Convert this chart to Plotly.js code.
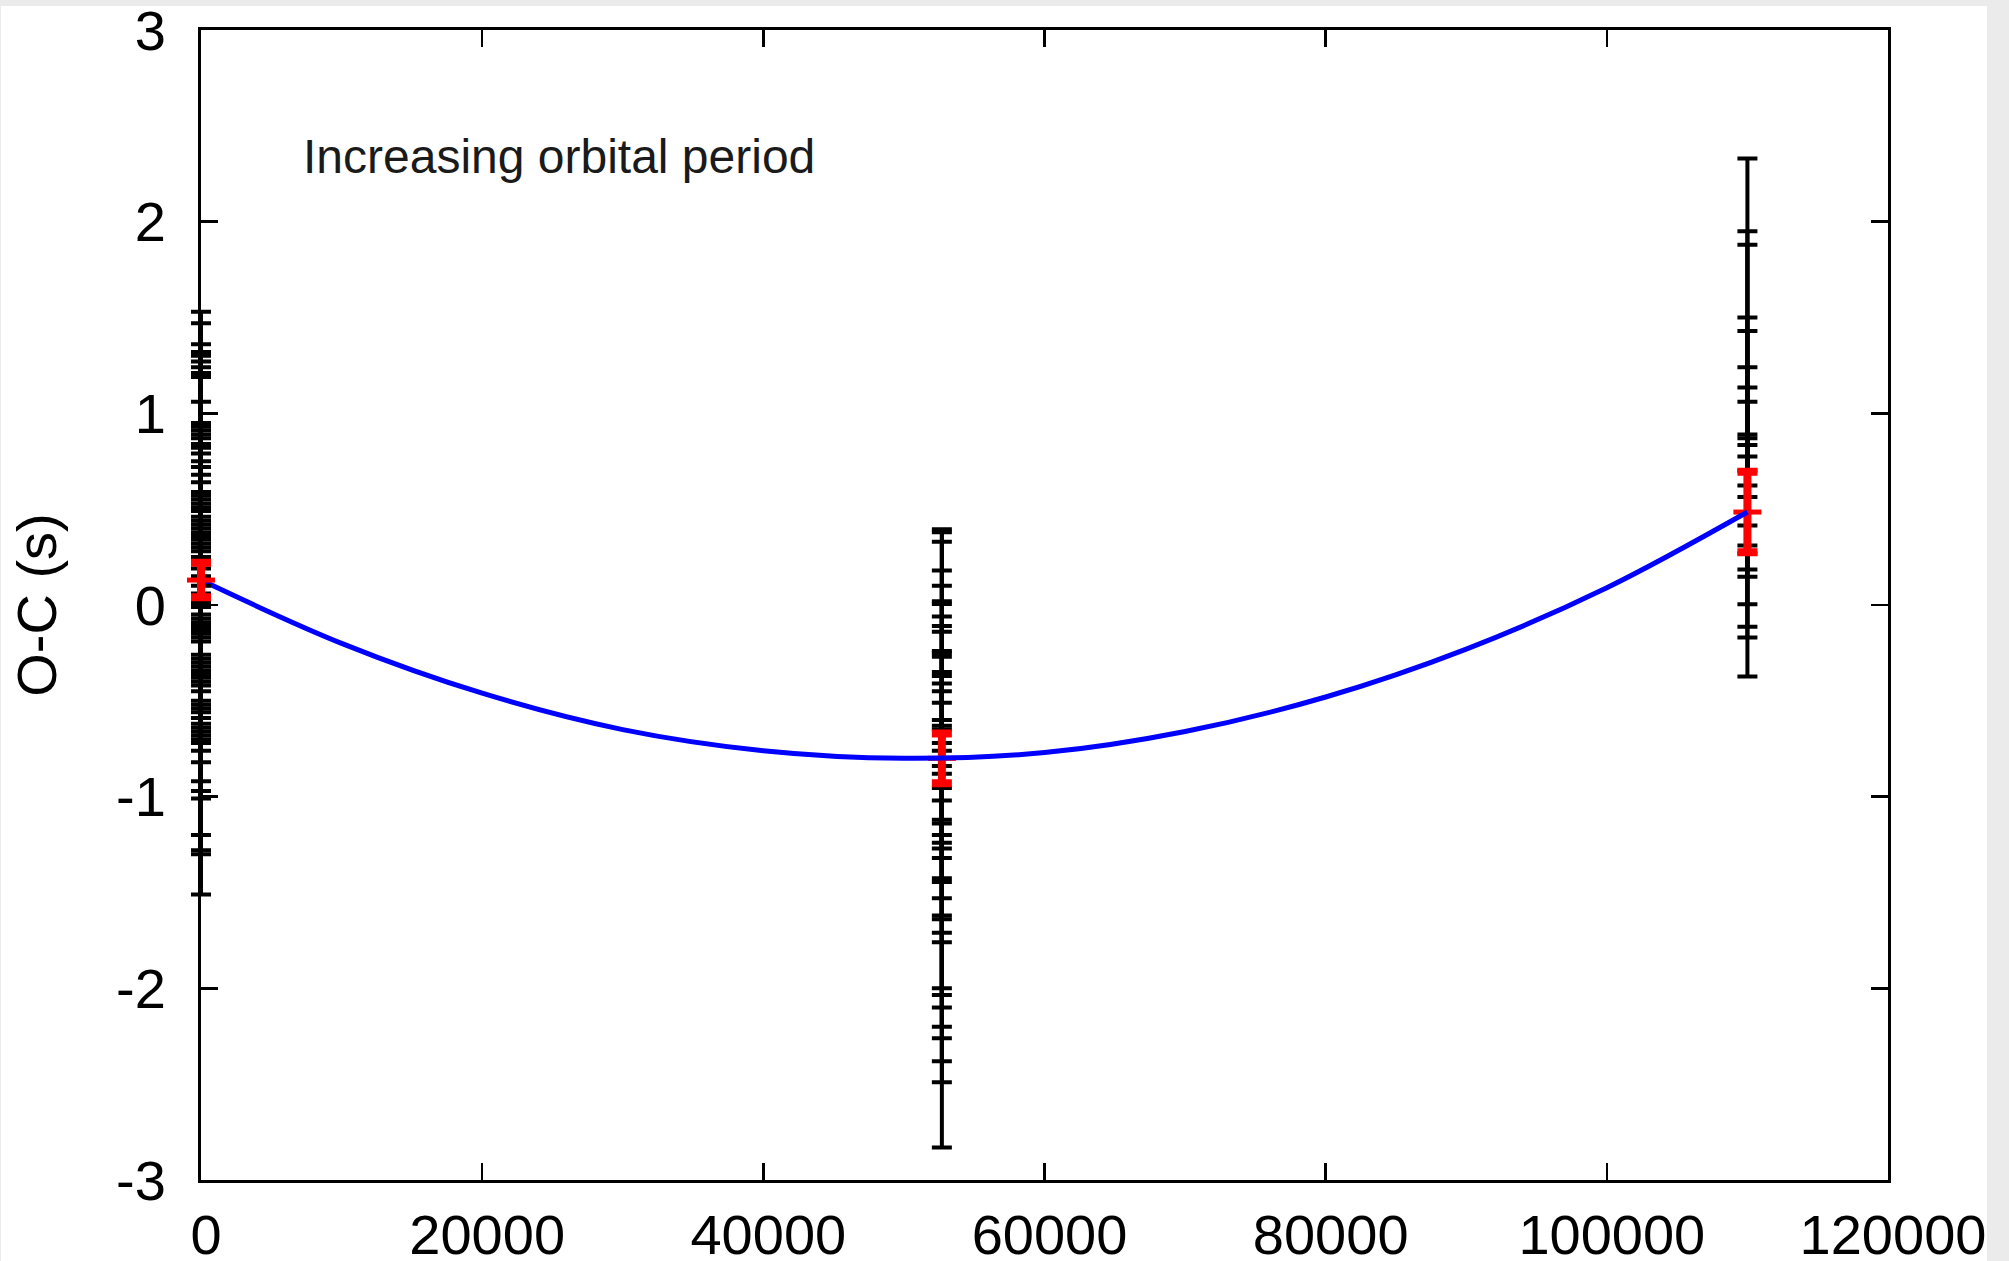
<!DOCTYPE html>
<html>
<head>
<meta charset="utf-8">
<script src="https://cdn.plot.ly/plotly-3.0.1.min.js"></script>
<style>
  html, body { margin: 0; padding: 0; background: #ebebeb; width: 2009px; height: 1261px; overflow: hidden; }
  #plot { position: absolute; left: 1px; top: 6px; width: 1986px; height: 1255px; background: #ffffff; }
</style>
</head>
<body>
<div id="plot"></div>
<script>
// Epochs (cycle number) of the three observation groups
const clusterEpochs = [0, 52700, 110000];

// Individual O-C measurements (s) and 1-sigma errors, group 1 (epoch 0)
const ocLeft = [0.795, 0.75, 0.685, 0.655, 0.625, 0.60, 0.575, 0.55, 0.53, 0.455, 0.39, 0.37, 0.325, 0.305, 0.285, 0.26, 0.24, 0.215, 0.185, 0.16, 0.13, 0.095, 0.045, 0.025, 0.005, -0.015, -0.04, -0.065, -0.09, -0.11, -0.13, -0.15, -0.17, -0.20, -0.24, -0.30, -0.335, -0.365, -0.475, -0.545, -0.575, -0.705];
const errLeft = [0.735, 0.72, 0.675, 0.665, 0.675, 0.67, 0.665, 0.66, 0.66, 0.605, 0.56, 0.56, 0.585, 0.585, 0.585, 0.58, 0.58, 0.575, 0.565, 0.56, 0.55, 0.545, 0.545, 0.545, 0.545, 0.545, 0.55, 0.555, 0.55, 0.55, 0.55, 0.55, 0.55, 0.56, 0.58, 0.62, 0.635, 0.645, 0.725, 0.735, 0.725, 0.805];

// Group 2 (epoch ~52700)
const ocMid = [-0.2425, -0.2875, -0.345, -0.47, -0.52, -0.59, -0.6175, -0.665, -0.715, -0.7825, -0.8425, -0.89, -0.945, -0.995, -1.04, -1.085, -1.225, -1.2725, -1.35, -1.415, -1.455, -1.55, -1.625, -1.835];
const errMid = [0.6375, 0.6675, 0.675, 0.65, 0.62, 0.61, 0.6225, 0.605, 0.605, 0.6425, 0.6025, 0.64, 0.675, 0.645, 0.67, 0.675, 0.775, 0.7625, 0.75, 0.785, 0.805, 0.83, 0.865, 0.995];

// Group 3 (epoch ~110000)
const ocRight = [1.515, 1.287, 1.222, 0.9575, 0.87, 0.755, 0.66, 0.604, 0.447, 0.3785, 0.333, 0.201];
const errRight = [0.815, 0.663, 0.658, 0.5425, 0.56, 0.485, 0.475, 0.456, 0.443, 0.4915, 0.502, 0.574];

// Group means (red)
const meanOC = [0.13, -0.80, 0.485];
const meanErr = [0.09, 0.13, 0.21];

// Fitted curve (blue)
const fitEpoch = [0, 10000, 20000, 30000, 40000, 50000, 60000, 70000, 80000, 90000, 100000, 110000];
const fitOC = [0.13, -0.20, -0.46, -0.65, -0.76, -0.80, -0.77, -0.66, -0.48, -0.23, 0.09, 0.485];

// Axis ticks
const xTickVals = [0, 20000, 40000, 60000, 80000, 100000, 120000];
const xTickText = ['0', '20000', '40000', '60000', '80000', '100000', '120000'];
const yTickVals = [-3, -2, -1, 0, 1, 2, 3];
const yTickText = ['-3', '-2', '-1', '0', '1', '2', '3'];

const FONT = '"Liberation Sans", Arial, Helvetica, sans-serif';

// Geometry of the figure (pixels inside the plot div)
const W = 1986, H = 1255;
const M = { l: 160, r: 99, t: 24, b: 81 };
const plotW = W - M.l - M.r;          // paper width between margins
const axisOffset = 40;                // main plot starts 40px right of the left margin
const stripHalf = 24;                 // half-width of the strip that holds the epoch-0 group

function errTrace(epoch, oc, err, xa) {
  return {
    type: 'scatter', mode: 'markers', xaxis: xa, yaxis: 'y',
    x: oc.map(() => epoch), y: oc,
    marker: { size: 1, color: '#000000' },
    error_y: { type: 'data', array: err, visible: true, color: '#000000', thickness: 4, width: 10 },
    cliponaxis: false, hoverinfo: 'skip'
  };
}

function meanTrace(idx, xa) {
  return {
    type: 'scatter', mode: 'markers', xaxis: xa, yaxis: 'y',
    x: idx.map(i => clusterEpochs[i]), y: idx.map(i => meanOC[i]),
    marker: { symbol: 'line-ew', size: 20, color: '#ff0000', line: { color: '#ff0000', width: 5 } },
    error_y: { type: 'data', array: idx.map(i => meanErr[i]), visible: true, color: '#ff0000', thickness: 8, width: 10 },
    cliponaxis: false, hoverinfo: 'skip'
  };
}

const traces = [
  errTrace(clusterEpochs[1], ocMid, errMid, 'x'),
  errTrace(clusterEpochs[2], ocRight, errRight, 'x'),
  meanTrace([1, 2], 'x'),
  {
    type: 'scatter', mode: 'lines', xaxis: 'x', yaxis: 'y',
    x: fitEpoch, y: fitOC,
    line: { color: '#0000ff', width: 5, shape: 'spline', smoothing: 1 },
    cliponaxis: false, hoverinfo: 'skip'
  },
  // epoch-0 group drawn on a narrow strip centred on the left axis so it is not clipped
  errTrace(clusterEpochs[0], ocLeft, errLeft, 'x2'),
  meanTrace([0], 'x2')
];

const axisCommon = {
  ticks: 'inside', ticklen: 17, tickwidth: 2.5, tickcolor: '#000000',
  showline: true, linecolor: '#000000', linewidth: 3, mirror: 'ticks',
  showgrid: false, zeroline: false, automargin: false,
  ticklabeloverflow: 'allow',
  tickfont: { family: FONT, size: 56, color: '#000000' }
};

const layout = {
  width: W, height: H,
  margin: { l: M.l, r: M.r, t: M.t, b: M.b, pad: 0 },
  paper_bgcolor: '#ffffff', plot_bgcolor: 'rgba(0,0,0,0)',
  showlegend: false,
  font: { family: FONT, size: 56, color: '#000000' },
  xaxis: Object.assign({}, axisCommon, {
    domain: [axisOffset / plotW, 1],
    range: [0, 120000], tickmode: 'array', tickvals: xTickVals, ticktext: xTickText,
    ticklabelstandoff: 4, ticklabelshift: 5, anchor: 'y'
  }),
  xaxis2: {
    domain: [(axisOffset - stripHalf) / plotW, (axisOffset + stripHalf) / plotW],
    range: [-1, 1], visible: false, anchor: 'y', fixedrange: true
  },
  yaxis: Object.assign({}, axisCommon, {
    range: [-3, 3], tickmode: 'array', tickvals: yTickVals, ticktext: yTickText,
    ticklabelstandoff: 21, anchor: 'x',
    title: { text: 'O-C (s)', font: { family: FONT, size: 56, color: '#000000' }, standoff: 42 }
  }),
  annotations: [{
    xref: 'x', yref: 'y', x: 7100, y: 2.34,
    text: 'Increasing orbital period', showarrow: false,
    xanchor: 'left', yanchor: 'middle',
    font: { family: FONT, size: 48, color: '#1a1a1a' }
  }]
};

Plotly.newPlot('plot', traces, layout, { displayModeBar: false, staticPlot: true });
</script>
</body>
</html>
